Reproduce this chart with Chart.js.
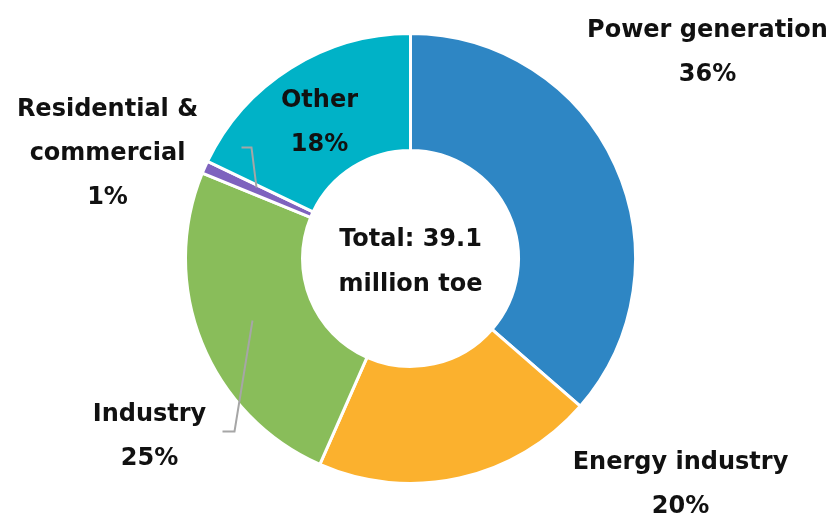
<!DOCTYPE html>
<html>
<head>
<meta charset="utf-8">
<script src="https://cdn.jsdelivr.net/npm/chart.js@4.4.1/dist/chart.umd.min.js"></script>
<style>
  html, body { margin: 0; padding: 0; background: #fff; }
  #wrap { width: 834px; height: 518px; }
</style>
</head>
<body>
<div id="wrap"><canvas id="grafico" width="834" height="518"></canvas></div>
<script>
// data
const sectores = ['Power generation', 'Energy industry', 'Industry', 'Residential & commercial', 'Other'];
const porcentajes = [36.4, 20.2, 24.6, 0.9, 17.9];
const colores = ['#2E86C4', '#FBB12E', '#89BD5A', '#7E63BE', '#00B2C7'];
const totalTexto = ['Total: 39.1', 'million toe'];

// label lines per slice (text) and where they sit relative to the centre
const lineasEtiqueta = [
    ['Power generation'],
    ['Energy industry'],
    ['Industry'],
    ['Residential &', 'commercial'],
    ['Other']
];
const posEtiqueta = [[297, -222], [270, 210], [-261, 162], [-303, -143], [-91, -152]];
const guias = {
    2: [[-158, 62], [-176, 173], [-188, 173]],
    3: [[-169, -111], [-159, -111], [-154, -71]]
};

const FUENTE = 'bold 24px "DejaVu Sans", Verdana, sans-serif';
const ALTO_LINEA = 44;

const etiquetas = {
    id: 'etiquetas',
    afterDraw(chart) {
        const ctx = chart.ctx;
        const arc = chart.getDatasetMeta(0).data[0];
        const cx = arc.x, cy = arc.y;
        ctx.save();

        // leader lines
        ctx.strokeStyle = '#A6A6A6';
        ctx.lineWidth = 2;
        Object.keys(guias).forEach(k => {
            const pts = guias[k];
            ctx.beginPath();
            ctx.moveTo(cx + pts[0][0], cy + pts[0][1]);
            for (let i = 1; i < pts.length; i++) ctx.lineTo(cx + pts[i][0], cy + pts[i][1]);
            ctx.stroke();
        });

        ctx.fillStyle = '#111';
        ctx.font = FUENTE;
        ctx.textAlign = 'center';
        ctx.textBaseline = 'alphabetic';

        porcentajes.forEach((v, i) => {
            const lineas = lineasEtiqueta[i].concat([Math.round(v) + '%']);
            const x = cx + posEtiqueta[i][0];
            let y = cy + posEtiqueta[i][1];
            lineas.forEach(t => {
                ctx.fillText(t, x, y);
                y += ALTO_LINEA;
            });
        });

        ctx.fillText(totalTexto[0], cx, cy - 13);
        ctx.fillText(totalTexto[1], cx, cy + 32);
        ctx.restore();
    }
};

const config = {
    type: 'doughnut',
    data: {
        labels: sectores,
        datasets: [{
            data: porcentajes,
            backgroundColor: colores,
            borderColor: '#fff',
            borderWidth: 3
        }]
    },
    options: {
        responsive: false,
        animation: false,
        cutout: '48%',
        layout: { padding: { left: 184, right: 197, top: 32, bottom: 33 } },
        plugins: {
            legend: { display: false },
            tooltip: { enabled: false }
        }
    },
    plugins: [etiquetas]
};

new Chart(document.getElementById('grafico'), config);
</script>
</body>
</html>
